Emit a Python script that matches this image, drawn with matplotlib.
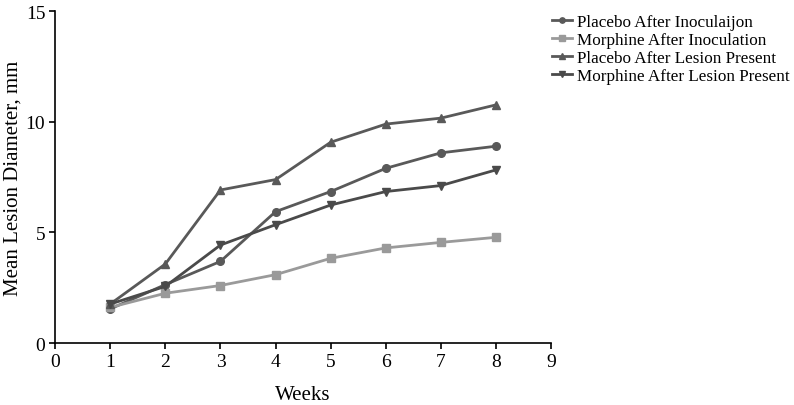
import numpy as np
import matplotlib
matplotlib.use('Agg')
import matplotlib.pyplot as plt

plt.rcParams['font.family'] = ['Liberation Serif', 'DejaVu Serif']

#------------------------------------------------------------------
#                     data
#------------------------------------------------------------------
weeks = [1, 2, 3, 4, 5, 6, 7, 8]
placebo_inoc = [1.54, 2.64, 3.69, 5.94, 6.85, 7.90, 8.60, 8.90]
morphine_inoc = [1.61, 2.25, 2.60, 3.09, 3.83, 4.30, 4.55, 4.78]
placebo_lesion = [1.76, 3.57, 6.92, 7.39, 9.08, 9.90, 10.17, 10.77]
morphine_lesion = [1.76, 2.56, 4.43, 5.35, 6.24, 6.85, 7.12, 7.83]

labels = ['Placebo After Inoculaijon', 'Morphine After Inoculation',
          'Placebo After Lesion Present', 'Morphine After Lesion Present']

#------------------------------------------------------------------
fig = plt.figure(figsize=(7.94, 4.06), dpi=100)
ax = fig.add_axes([0.0693, 0.1527, 0.625, 0.817])

dark = '#595959'
light = '#9a9a9a'
ax.plot(weeks, placebo_inoc, '-o', color=dark, lw=2, ms=5.5, label=labels[0])
ax.plot(weeks, morphine_inoc, '-s', color=light, lw=2, ms=5.5, label=labels[1])
ax.plot(weeks, placebo_lesion, '-^', color=dark, lw=2, ms=5.5, label=labels[2])
ax.plot(weeks, morphine_lesion, '-v', color='#4a4a4a', lw=2, ms=5.5, label=labels[3])

ax.set_xlim(0, 9)
ax.set_ylim(0, 15)
ax.set_xticks(range(0, 10))
ax.set_yticks([0, 5, 10, 15])

ax.spines['top'].set_visible(False)
ax.spines['right'].set_visible(False)
ax.spines['left'].set_linewidth(1.2)
ax.spines['bottom'].set_linewidth(1.2)
ax.tick_params(direction='out', length=4, width=1.2, labelsize=14, pad=3)

ax.set_xlabel('Weeks', fontsize=15, labelpad=11)
ax.set_ylabel('Mean Lesion Diameter, mm', fontsize=15, labelpad=2)

lg = fig.legend(loc='upper left', bbox_to_anchor=(552/794, 1 - 15/406), frameon=False,
                fontsize=12.3, handlelength=1.15, handletextpad=0.3, markerscale=0.7,
                labelspacing=0.12, borderaxespad=0.0, borderpad=0.0)

plt.savefig('out.png', dpi=100)
